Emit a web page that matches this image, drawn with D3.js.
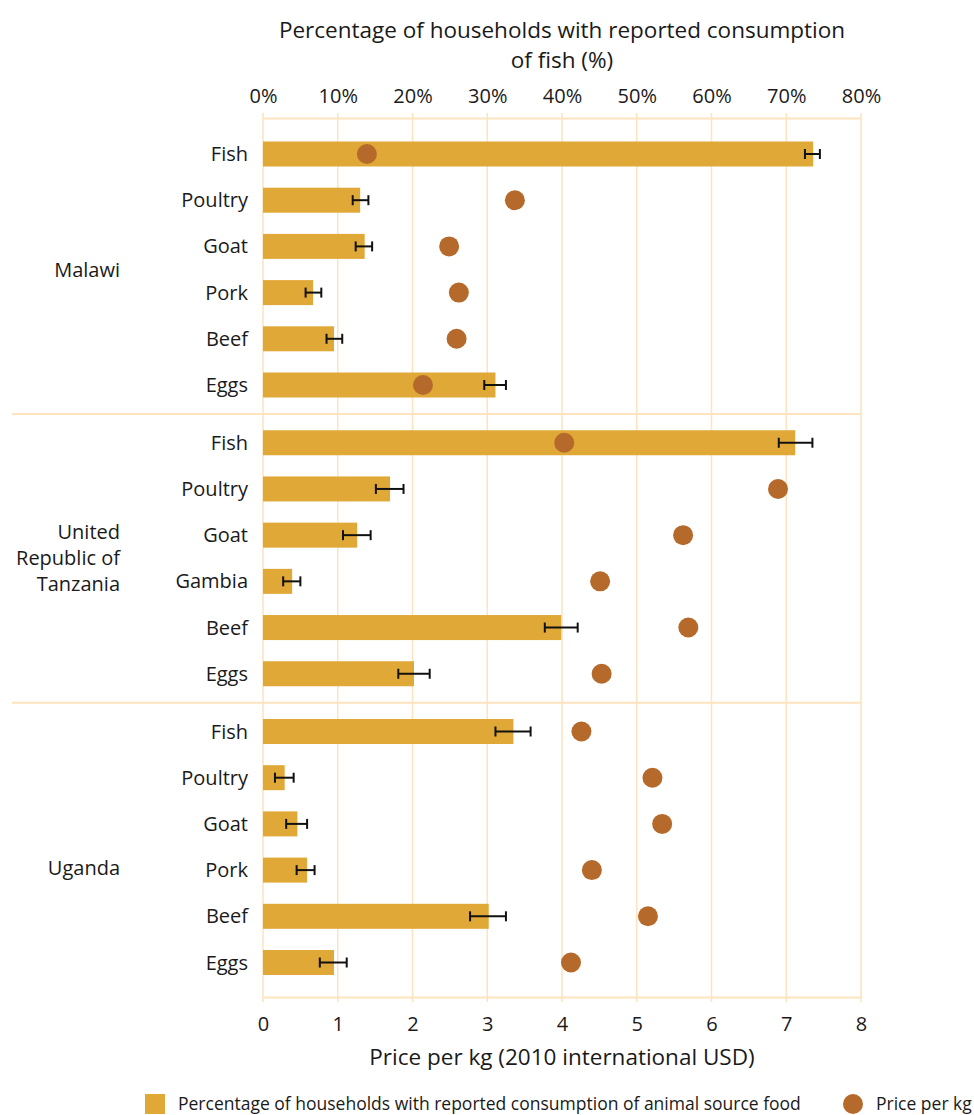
<!DOCTYPE html>
<html>
<head>
<meta charset="utf-8">
<script src="https://cdn.jsdelivr.net/npm/d3@7"></script>
<style>
body { margin: 0; background: #fff; }
text { font-family: "Open Sans", sans-serif; fill: #1a1a1a; }
</style>
</head>
<body>
<svg id="chart"></svg>
<script>
var countries = ["Malawi", "United Republic of Tanzania", "Uganda"]
var foods = [
    ["Fish", "Poultry", "Goat", "Pork", "Beef", "Eggs"],
    ["Fish", "Poultry", "Goat", "Gambia", "Beef", "Eggs"],
    ["Fish", "Poultry", "Goat", "Pork", "Beef", "Eggs"]
]
// % of households consuming (bars) with error bar bounds
var pctValues = [
    [73.6, 13.0, 13.6, 6.7, 9.5, 31.1],
    [71.2, 17.0, 12.6, 3.9, 39.9, 20.2],
    [33.5, 2.9, 4.6, 5.9, 30.2, 9.5]
]
var pctLow = [
    [72.5, 12.0, 12.4, 5.7, 8.5, 29.6],
    [69.0, 15.1, 10.7, 2.7, 37.7, 18.1],
    [31.1, 1.6, 3.1, 4.5, 27.7, 7.6]
]
var pctHigh = [
    [74.5, 14.1, 14.6, 7.8, 10.6, 32.5],
    [73.5, 18.8, 14.4, 5.0, 42.1, 22.3],
    [35.8, 4.1, 5.9, 6.9, 32.5, 11.2]
]
// price per kg (dots)
var priceValues = [
    [1.39, 3.37, 2.49, 2.62, 2.59, 2.14],
    [4.03, 6.89, 5.62, 4.51, 5.69, 4.53],
    [4.26, 5.21, 5.34, 4.40, 5.15, 4.12]
]
var pctTicks = [0, 10, 20, 30, 40, 50, 60, 70, 80]
var priceTicks = [0, 1, 2, 3, 4, 5, 6, 7, 8]

var svgw = 974
var svgh = 1115
var barColor = "#E0A836"
var dotColor = "#B5692A"
var gridColor = "#FDE3BE"
var groupGap = 0.25

var svg = d3.select("#chart")
    .attr("width", svgw)
    .attr("height", svgh)

var xPrice = d3.scaleLinear().domain([0, 8]).range([263, 861])
var xPct = d3.scaleLinear().domain([0, 80]).range([263, 861])

var rowIndex = function(g, i) { return g * (6 + groupGap) + i }
var yscale = d3.scaleLinear()
    .domain([0, rowIndex(2, 5)])
    .range([154, 962.5])

var plotTop = 118
var plotBottom = 997
var barh = 25

// rows flattened
var rows = []
countries.forEach(function(c, g) {
    foods[g].forEach(function(f, i) {
        rows.push({
            country: c, food: f, idx: rowIndex(g, i),
            pct: pctValues[g][i], lo: pctLow[g][i], hi: pctHigh[g][i],
            price: priceValues[g][i]
        })
    })
})

// gridlines
svg.append("g").selectAll("line")
    .data(priceTicks)
    .enter()
    .append("line")
    .attr("x1", function(d) { return xPrice(d) })
    .attr("x2", function(d) { return xPrice(d) })
    .attr("y1", plotTop - 5)
    .attr("y2", plotBottom + 5)
    .attr("stroke", gridColor)
    .attr("stroke-width", 1.5)

// top axis
var topAxis = svg.append("g")
    .attr("transform", "translate(0," + plotTop + ")")
    .call(d3.axisTop(xPct).tickValues(pctTicks).tickFormat(function(d) { return d + "%" }).tickSize(0).tickPadding(15))
topAxis.select(".domain").attr("stroke", gridColor).attr("stroke-width", 2)
topAxis.selectAll("text").style("font-size", "20px").style("font-family", "'Open Sans', sans-serif").attr("fill", "#1a1a1a")

// bottom axis
var bottomAxis = svg.append("g")
    .attr("transform", "translate(0," + plotBottom + ")")
    .call(d3.axisBottom(xPrice).tickValues(priceTicks).tickSize(0).tickPadding(20))
bottomAxis.select(".domain").attr("stroke", gridColor).attr("stroke-width", 2)
bottomAxis.selectAll("text").style("font-size", "20px").style("font-family", "'Open Sans', sans-serif").attr("fill", "#1a1a1a")

// group separators
svg.append("g").selectAll("line")
    .data([0, 1])
    .enter()
    .append("line")
    .attr("x1", 12)
    .attr("x2", 861)
    .attr("y1", function(g) { return yscale((rowIndex(g, 5) + rowIndex(g + 1, 0)) / 2) })
    .attr("y2", function(g) { return yscale((rowIndex(g, 5) + rowIndex(g + 1, 0)) / 2) })
    .attr("stroke", gridColor)
    .attr("stroke-width", 2)

// bars
svg.append("g").selectAll("rect")
    .data(rows)
    .enter()
    .append("rect")
    .attr("x", xPct(0))
    .attr("y", function(d) { return yscale(d.idx) - barh / 2 })
    .attr("width", function(d) { return xPct(d.pct) - xPct(0) })
    .attr("height", barh)
    .attr("fill", barColor)

// dots
svg.append("g").selectAll("circle")
    .data(rows)
    .enter()
    .append("circle")
    .attr("cx", function(d) { return xPrice(d.price) })
    .attr("cy", function(d) { return yscale(d.idx) })
    .attr("r", 10)
    .attr("fill", dotColor)

// error bars
var errs = svg.append("g").selectAll("g")
    .data(rows)
    .enter()
    .append("g")
    .attr("stroke", "#111")
    .attr("stroke-width", 2)
errs.append("line")
    .attr("x1", function(d) { return xPct(d.lo) })
    .attr("x2", function(d) { return xPct(d.hi) })
    .attr("y1", function(d) { return yscale(d.idx) })
    .attr("y2", function(d) { return yscale(d.idx) })
errs.append("line")
    .attr("x1", function(d) { return xPct(d.lo) })
    .attr("x2", function(d) { return xPct(d.lo) })
    .attr("y1", function(d) { return yscale(d.idx) - 5 })
    .attr("y2", function(d) { return yscale(d.idx) + 5 })
errs.append("line")
    .attr("x1", function(d) { return xPct(d.hi) })
    .attr("x2", function(d) { return xPct(d.hi) })
    .attr("y1", function(d) { return yscale(d.idx) - 5 })
    .attr("y2", function(d) { return yscale(d.idx) + 5 })

// food labels
svg.append("g").selectAll("text")
    .data(rows)
    .enter()
    .append("text")
    .text(function(d) { return d.food })
    .attr("x", 248)
    .attr("y", function(d) { return yscale(d.idx) })
    .attr("dy", "0.35em")
    .attr("text-anchor", "end")
    .style("font-size", "20px")

// country labels
var countryLines = [["Malawi"], ["United", "Republic of", "Tanzania"], ["Uganda"]]
var labelShift = [0, 0, 0.45]
countryLines.forEach(function(lines, g) {
    var cy = yscale(rowIndex(g, 2.5 + labelShift[g]))
    var t = svg.append("text")
        .attr("text-anchor", "end")
        .style("font-size", "20px")
    lines.forEach(function(line, k) {
        t.append("tspan")
            .attr("x", 120)
            .attr("y", cy + (k - (lines.length - 1) / 2) * 26)
            .attr("dy", "0.35em")
            .text(line)
    })
})

// titles
svg.append("text")
    .attr("text-anchor", "middle")
    .attr("x", 562)
    .attr("y", 38)
    .style("font-size", "22.5px")
    .text("Percentage of households with reported consumption")
svg.append("text")
    .attr("text-anchor", "middle")
    .attr("x", 562)
    .attr("y", 68)
    .style("font-size", "22.5px")
    .text("of fish (%)")
svg.append("text")
    .attr("text-anchor", "middle")
    .attr("x", 562)
    .attr("y", 1065)
    .style("font-size", "22.5px")
    .text("Price per kg (2010 international USD)")

// legend
var legend = svg.append("g").attr("transform", "translate(0,1104)")
legend.append("rect")
    .attr("x", 145).attr("y", -10)
    .attr("width", 20).attr("height", 20)
    .attr("fill", barColor)
legend.append("text")
    .attr("x", 178).attr("y", 0).attr("dy", "0.35em")
    .style("font-size", "17.5px")
    .text("Percentage of households with reported consumption of animal source food")
legend.append("circle")
    .attr("cx", 853).attr("cy", 0).attr("r", 10)
    .attr("fill", dotColor)
legend.append("text")
    .attr("x", 876).attr("y", 0).attr("dy", "0.35em")
    .style("font-size", "17.5px")
    .text("Price per kg")
</script>
</body>
</html>
